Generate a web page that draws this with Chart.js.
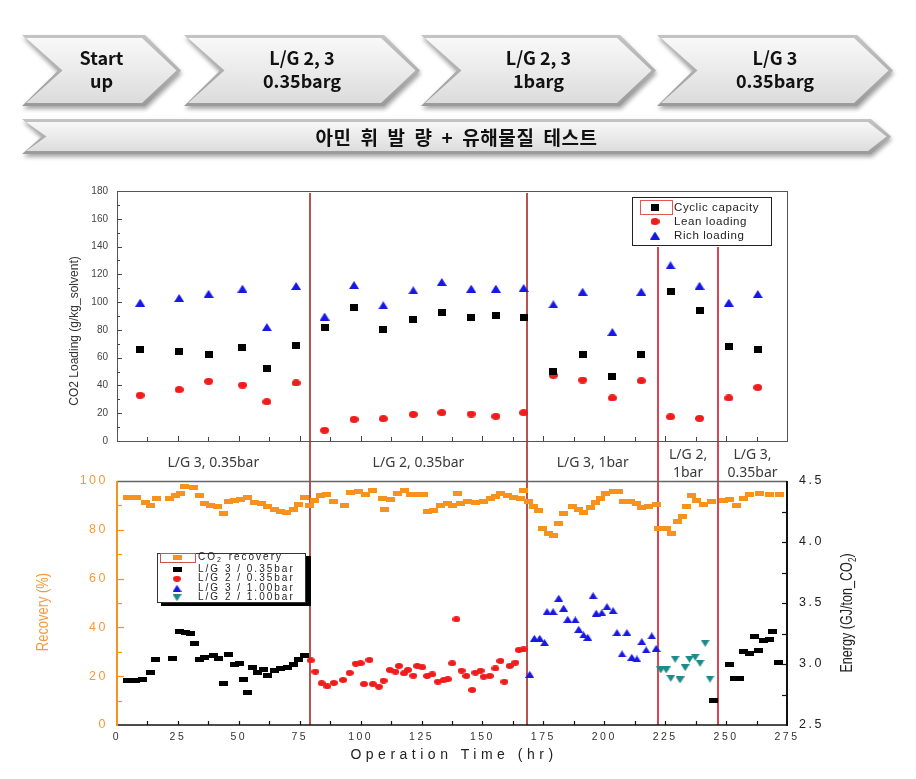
<!DOCTYPE html>
<html><head><meta charset="utf-8">
<script src="https://cdn.jsdelivr.net/npm/chart.js@4.4.0/dist/chart.umd.min.js"></script>
<style>
html,body{margin:0;padding:0;background:#fff;width:916px;height:779px;overflow:hidden;position:relative;}
.chev{position:absolute;filter:drop-shadow(1px 3px 2px rgba(0,0,0,0.35));}
.chev .outer,.chev .inner{position:absolute;left:0;top:0;width:100%;height:100%;}
.chev .outer{background:linear-gradient(#c4c4c4,#9a9a9a);}
.chev .inner{background:linear-gradient(#fafafa,#ececec 45%,#dadada);}
.chev .txt{position:absolute;left:0;top:0;width:100%;height:100%;display:flex;align-items:center;justify-content:center;text-align:center;font-family:"Noto Sans CJK KR","Noto Sans",sans-serif;font-weight:bold;font-size:18px;line-height:23px;color:#111;}
.chev .txt.wide{font-size:19px;letter-spacing:0.6px;word-spacing:4px;}
canvas{position:absolute;left:0;}
#c1{top:180px;} #c2{top:470px;}
</style></head>
<body>
<canvas id="c1" width="916" height="301"></canvas>
<canvas id="c2" width="916" height="309"></canvas>
<script>
// ---------- DATA ----------
const stageLabels = [["Start","up"],["L/G 2, 3","0.35barg"],["L/G 2, 3","1barg"],["L/G 3","0.35barg"]];
const testLabel = "아민 휘 발 량 + 유해물질 테스트";
const phaseBounds = [79.1, 168.4, 222.1, 246.7];
const phaseLabels = [["L/G 3, 0.35bar"],["L/G 2, 0.35bar"],["L/G 3, 1bar"],["L/G 2,","1bar"],["L/G 3,","0.35bar"]];

const topTimes       = [9.5,25.5,37.6,51.5,61.5,73.5,85.2,97.3,109.3,121.6,133.3,145.4,155.5,166.9,179.1,191.1,203.3,215.2,227.2,239.1,251.1,263];
const cyclicCapacity = [65.7,64.6,62,67.4,52.3,68.6,81.4,95.8,80,87.8,92.6,88.6,90.5,88.6,49.7,62,46.8,62.1,107.5,93.8,67.7,65.7];
const leanLoading    = [32.9,37,43,40.3,28.3,41.8,7.7,15.6,16.1,19.2,20.4,19.4,17.8,20.4,47.3,43.9,31,43.4,17.5,16.3,31,38.6];
const richLoading    = [99.6,103,106,109.7,82,111.6,89.6,112.3,97.7,108.5,114.5,109.7,109.7,110.2,98.4,107.5,78.5,107.5,126.5,111.8,99.6,105.8];

const recTime  = [4.5,8,11.9,13.7,16.3,21.4,24.2,26.2,27.9,31.4,33.7,35.8,38.5,41.3,43.6,45.6,48.4,50.8,53.6,56.3,59.3,61.8,64.5,67.2,69.5,72.4,74.7,76.8,79.2,81.1,83.6,86.1,89,93.2,95.9,99.3,102,104.8,108.9,109.6,112.3,115,117.8,120.5,123.2,125.9,127.3,130,132.8,135.5,137.6,139.6,141,143.7,147.1,150.5,153.3,155.3,157.4,160.1,162.8,165.6,166.9,169,171,173,174.5,177.2,179.2,181.3,183.3,186.8,189.5,191.5,194.3,196.3,198.4,200.4,203.8,205.9,207.9,210.7,213.1,215.4,218.2,221.3,222.3,225.7,227.7,230,232.2,233.6,235.9,238,240.7,244.1,248.9,251.6,254.4,257.1,259.8,263.9,268,272];
const recValue = [93.3,93.3,91.1,90,92.9,93,93.9,94.7,97.7,97.4,94,90.9,89.8,89.5,86.8,91.5,91.9,92.5,93.3,91.1,90.9,89.5,88.4,87.6,87,88.4,90.2,93.3,89.8,91.9,93.9,94.6,91.5,89.8,95.2,95.6,94.3,96.3,92.9,88.4,92.5,95,96,94.3,94.3,94.3,87.4,88.1,89.8,90.6,89.8,94.7,90.9,91.5,91.1,91.5,92.9,93.6,94.7,93.9,93.3,92.9,96,91.5,89.5,88.1,80.6,78.6,77.5,82.4,86.5,89.5,88.4,87,89.2,91.1,92.9,94.7,95.6,95.6,91.5,91.5,90.9,89.2,89.5,90.2,80.6,80.6,78.3,83.3,85.4,89.5,93.9,92.2,90.2,91.5,92.2,92.5,89.8,92.9,94.3,95,94.3,94.3];

const lg3LowTime   = [4.5,7.5,10.5,13.7,16,22.8,25.5,28,30.3,31.7,33.7,35.8,39.6,41.5,43.7,45.6,48.1,50.1,51.9,53.6,55.6,57.7,60.1,61.8,64.5,67.2,70,72.4,74.7,76.8,244.8,251.4,253.3,255.5,257.1,259.5,261.5,263.2,265.3,267.7,269.1,271.4];
const lg3LowEnergy = [2.863,2.866,2.869,2.932,3.033,3.041,3.265,3.26,3.254,3.164,3.033,3.055,3.071,3.043,2.842,3.074,3.0,3.006,2.869,2.765,2.973,2.929,2.957,2.902,2.945,2.964,2.973,3.0,3.039,3.071,2.7,3.0,2.883,2.883,3.101,3.088,3.224,3.109,3.191,3.202,3.265,3.011];

const lg2LowTime   = [79.5,81.4,84,86.3,89,92.8,95.5,98,100,101.4,103.6,105,107.5,109.4,112,114.3,115.7,117.8,119.4,121.6,123.2,125.3,127.3,129.4,131.7,134.1,135.8,137.6,139.3,141.4,143.4,145.8,147.1,149.2,150.5,153,155.3,157.4,159,161.2,163.5,164.9,166.9];
const lg2LowEnergy = [3.03,2.937,2.842,2.817,2.845,2.869,2.927,3.003,3.006,2.836,3.033,2.836,2.814,2.863,2.951,2.937,2.984,2.924,2.951,2.904,2.984,2.973,2.902,2.915,2.855,2.869,2.875,3.006,3.366,2.945,2.902,2.787,2.929,2.945,2.896,2.902,2.964,3.025,2.855,2.984,3.011,3.115,3.12];

const lg3HighTime   = [169.4,171.3,173.5,175.5,176.5,179,181.3,183.3,185,188.1,189.5,191.5,193.2,195.4,196.7,199,201.1,203.6,205.2,207.3,209.3,211.3,213.4,215.4,217.2,219.5,221.3];
const lg3HighEnergy = [2.915,3.211,3.211,3.175,3.429,3.429,3.539,3.457,3.366,3.361,3.284,3.238,3.219,3.56,3.416,3.42,3.47,3.437,3.257,3.082,3.257,3.055,3.041,3.183,3.115,3.23,3.128];

const lg2HighTime   = [223.2,225.4,227.3,229.1,231.1,233.2,235,237.3,239.3,241.4,243.4];
const lg2HighEnergy = [2.951,2.951,2.883,3.039,2.869,2.97,3.039,3.055,3.006,3.17,2.877];

const xTickValues = [0,25,50,75,100,125,150,175,200,225,250,275];

// ---------- COLOURS ----------
const ORANGE='#f7921c', ORANGE_TXT='#f29b3e', RED='#f01c1c', BLUE='#1818e4', TEAL='#1f8a87';

// ---------- CHEVRONS ----------
function chevron(x0,x1,y0,y1,d,lines,cls){
  const w=x1-x0,h=y1-y0,b=3;
  const wrap=document.createElement('div');wrap.className='chev';
  Object.assign(wrap.style,{left:x0+'px',top:y0+'px',width:w+'px',height:h+'px'});
  const o=document.createElement('div');o.className='outer';
  o.style.clipPath=`polygon(0px 0px, ${w-d}px 0px, ${w}px ${h/2}px, ${w-d}px ${h}px, 0px ${h}px, ${d}px ${h/2}px)`;
  const i=document.createElement('div');i.className='inner';
  i.style.clipPath=`polygon(${b+1}px ${b}px, ${w-d-b}px ${b}px, ${w-b-1.5}px ${h/2}px, ${w-d-b}px ${h-b}px, ${b+1}px ${h-b}px, ${d+b+1.5}px ${h/2}px)`;
  const t=document.createElement('div');t.className='txt'+(cls?' '+cls:'');
  t.innerHTML=lines.join('<br>');
  wrap.appendChild(o);wrap.appendChild(i);wrap.appendChild(t);
  document.body.appendChild(wrap);
  return t;
}
const chevX=[[22,181],[184,420],[421,656],[657,893]];
chevX.forEach((c,k)=>{const t=chevron(c[0],c[1],35,106,36,stageLabels[k]);t.style.paddingBottom='4px';t.style.boxSizing='border-box';});
chevron(22,891,119,154,20,[testLabel],'wide');

// ---------- MARKERS ----------
function mk(w,h,fn){const c=document.createElement('canvas');c.width=w;c.height=h;const g=c.getContext('2d');fn(g,w,h);return c;}
const rectM=(w,h,col)=>mk(w,h,(g)=>{g.fillStyle=col;g.fillRect(0,0,w,h);});
const ellM=(w,h,col)=>mk(w,h,(g)=>{g.fillStyle=col;g.beginPath();g.ellipse(w/2,h/2,w/2,h/2,0,0,Math.PI*2);g.fill();});
const triM=(w,h,col,down)=>mk(w,h,(g)=>{g.fillStyle=col;g.beginPath();if(down){g.moveTo(0,0);g.lineTo(w,0);g.lineTo(w/2,h);}else{g.moveTo(w/2,0);g.lineTo(w,h);g.lineTo(0,h);}g.closePath();g.fill();});

const mTopSq=rectM(8,7,'#000'), mTopCi=ellM(9,7,RED), mTopTr=triM(10,8,BLUE,false);
const mRec=rectM(9,5,ORANGE), mBlk=rectM(9,5,'#000'), mRed=ellM(8,6,RED), mBlu=triM(9,7,BLUE,false), mTeal=triM(9,7,TEAL,true);

function line(ctx,x1,y1,x2,y2){ctx.beginPath();ctx.moveTo(x1,y1);ctx.lineTo(x2,y2);ctx.stroke();}
function pts(xs,ys){return xs.map((t,i)=>({x:t,y:ys[i]}));}
function fitY(w){return s=>{s.width=w;s.paddingTop=0;s.paddingBottom=0;};}
function fitX(h){return s=>{s.height=h;s.paddingLeft=0;s.paddingRight=0;};}

Chart.defaults.font.family='"Liberation Sans", Arial, sans-serif';
Chart.defaults.animation=false;

// ---------- TOP CHART ----------
const topDeco={
  id:'topDeco',
  beforeDatasetsDraw(chart){
    const {ctx,chartArea:ca,scales:{x}}=chart;
    ctx.save();ctx.lineWidth=2;
    phaseBounds.forEach((b,i)=>{
      const px=Math.round(x.getPixelForValue(b));
      ctx.strokeStyle=i<2?'#b8524e':'#dc4450';
      line(ctx,px,i<2?ca.top+2:67,px,chart.height);
    });
    ctx.restore();
  },
  afterDraw(chart){
    const {ctx,chartArea:ca,scales:{x,y}}=chart;
    ctx.save();
    ctx.strokeStyle='#555';ctx.lineWidth=1;
    ctx.strokeRect(ca.left+0.5,ca.top+0.5,ca.right-ca.left,ca.bottom-ca.top);
    ctx.strokeStyle='#444';
    for(let v=10;v<180;v+=10){const py=Math.round(y.getPixelForValue(v))+0.5;line(ctx,ca.left,py,ca.left+(v%20===0?5:3),py);}
    for(let t=12.5;t<275;t+=12.5){const px=Math.round(x.getPixelForValue(t))+0.5;line(ctx,px,ca.bottom,px,ca.bottom-(t%25===0?5:4));}
    // y title
    ctx.save();ctx.translate(75,151);ctx.rotate(-Math.PI/2);
    ctx.font='12px "Liberation Sans"';ctx.fillStyle='#333';ctx.textAlign='center';ctx.textBaseline='middle';
    ctx.fillText('CO2 Loading (g/kg_solvent)',0,0);ctx.restore();
    // phase labels
    const edges=[0,...phaseBounds,275];
    ctx.font='14px "Noto Sans"';ctx.fillStyle='#3a3a3a';ctx.textAlign='center';ctx.textBaseline='middle';
    phaseLabels.forEach((lab,i)=>{
      const cx=(x.getPixelForValue(edges[i])+x.getPixelForValue(edges[i+1]))/2;
      if(lab.length===1) ctx.fillText(lab[0],cx,283);
      else {ctx.fillText(lab[0],cx,275);ctx.fillText(lab[1],cx,293);}
    });
    // legend
    ctx.fillStyle='#fff';ctx.fillRect(632,17,139,49);
    ctx.strokeStyle='#222';ctx.lineWidth=1;ctx.strokeRect(632.5,17.5,139,48);
    ctx.strokeStyle='#e05858';ctx.strokeRect(640.5,20.5,32,14);
    const rows=[[mTopSq,'Cyclic capacity',27.5],[mTopCi,'Lean loading',41.5],[mTopTr,'Rich loading',55.5]];
    ctx.font='11.5px "Liberation Sans"';ctx.fillStyle='#222';ctx.textAlign='left';ctx.letterSpacing='0.6px';
    rows.forEach(r=>{ctx.drawImage(r[0],655-r[0].width/2,r[2]-r[0].height/2);ctx.fillText(r[1],674,r[2]);});
    ctx.restore();
  }
};

new Chart(document.getElementById('c1'),{
  type:'scatter',
  data:{datasets:[
    {label:'Cyclic capacity',data:pts(topTimes,cyclicCapacity),pointStyle:mTopSq,pointRadius:4,backgroundColor:'#000',borderColor:'#000'},
    {label:'Lean loading',data:pts(topTimes,leanLoading),pointStyle:mTopCi,pointRadius:4,backgroundColor:RED,borderColor:RED},
    {label:'Rich loading',data:pts(topTimes,richLoading),pointStyle:mTopTr,pointRadius:4,backgroundColor:BLUE,borderColor:BLUE}
  ]},
  options:{
    responsive:false,animation:false,
    layout:{padding:{top:11,right:129,bottom:0,left:0}},
    plugins:{legend:{display:false},tooltip:{enabled:false}},
    scales:{
      x:{type:'linear',min:0,max:275,ticks:{display:false},grid:{display:false,drawTicks:false},border:{display:false},afterFit:fitX(40)},
      y:{type:'linear',min:0,max:180,ticks:{stepSize:20,padding:9,color:'#444',font:{size:10}},grid:{display:false,drawTicks:false},border:{display:false},afterFit:fitY(117)}
    }
  },
  plugins:[topDeco]
});

// ---------- BOTTOM CHART ----------
const botDeco={
  id:'botDeco',
  beforeDraw(chart){chart.ctx.letterSpacing='2.5px';},
  beforeDatasetsDraw(chart){
    const {ctx,chartArea:ca,scales:{x}}=chart;
    ctx.save();ctx.lineWidth=2;
    phaseBounds.forEach((b,i)=>{
      const px=Math.round(x.getPixelForValue(b));
      ctx.strokeStyle=i<2?'#b8524e':'#dc4450';
      line(ctx,px,0,px,ca.bottom);
    });
    ctx.restore();
  },
  afterDraw(chart){
    const {ctx,chartArea:ca,scales:{x,y,y1}}=chart;
    ctx.save();ctx.letterSpacing='0px';
    // frame
    ctx.strokeStyle='#666';ctx.lineWidth=1.5;line(ctx,ca.left,ca.top+0.5,ca.right,ca.top+0.5);
    ctx.strokeStyle='#111';ctx.lineWidth=1.5;line(ctx,ca.left,ca.bottom,ca.right,ca.bottom);
    ctx.lineWidth=2;ctx.strokeStyle='#111';line(ctx,ca.right,ca.top,ca.right,ca.bottom+1);
    ctx.strokeStyle=ORANGE;line(ctx,ca.left,ca.top,ca.left,ca.bottom+1);
    // ticks
    ctx.lineWidth=1.2;ctx.strokeStyle=ORANGE;
    for(let v=10;v<100;v+=10){const py=Math.round(y.getPixelForValue(v))+0.5;line(ctx,ca.left,py,ca.left+(v%20===0?7:5),py);}
    ctx.strokeStyle='#111';
    for(let v=2.75;v<4.5;v+=0.25){const py=Math.round(y1.getPixelForValue(v))+0.5;line(ctx,ca.right,py,ca.right-5,py);}
    for(let t=12.5;t<275;t+=12.5){const px=Math.round(x.getPixelForValue(t))+0.5;line(ctx,px,ca.bottom,px,ca.bottom-4);}
    // left title
    ctx.save();ctx.translate(43,142);ctx.rotate(-Math.PI/2);ctx.scale(0.76,1);
    ctx.font='17px "Liberation Sans"';ctx.fillStyle=ORANGE_TXT;ctx.textAlign='center';ctx.textBaseline='middle';
    ctx.fillText('Recovery (%)',0,0);ctx.restore();
    // right title with subscript
    ctx.save();ctx.translate(847,143);ctx.rotate(-Math.PI/2);ctx.scale(0.74,1);
    ctx.fillStyle='#222';ctx.textBaseline='middle';ctx.textAlign='left';
    const p1='Energy (GJ/ton_CO',p2='2',p3=')';
    ctx.font='17px "Liberation Sans"';const w1=ctx.measureText(p1).width,w3=ctx.measureText(p3).width;
    ctx.font='11px "Liberation Sans"';const w2=ctx.measureText(p2).width;
    let sx=-(w1+w2+w3)/2;
    ctx.font='17px "Liberation Sans"';ctx.fillText(p1,sx,0);sx+=w1;
    ctx.font='11px "Liberation Sans"';ctx.fillText(p2,sx,6);sx+=w2;
    ctx.font='17px "Liberation Sans"';ctx.fillText(p3,sx,0);
    ctx.restore();
    // x title
    ctx.font='14px "Liberation Sans"';ctx.fillStyle='#222';ctx.textAlign='center';ctx.textBaseline='middle';ctx.letterSpacing='4.5px';
    ctx.fillText('Operation Time (hr)',(ca.left+ca.right)/2+2,285);
    // legend
    ctx.letterSpacing='0px';
    ctx.fillStyle='#000';ctx.fillRect(161,86,150,50);
    ctx.fillStyle='#fff';ctx.fillRect(157,83,149,50);
    ctx.strokeStyle='#333';ctx.lineWidth=1;ctx.strokeRect(157.5,83.5,148,49);
    ctx.strokeStyle='#d05050';ctx.strokeRect(160.5,83.5,35,9);
    const rows=[[mRec,null,87.5],[mBlk,'L/G 3 / 0.35bar',99],[mRed,'L/G 2 / 0.35bar',108.7],[mBlu,'L/G 3 / 1.00bar',118.3],[mTeal,'L/G 2 / 1.00bar',127.7]];
    ctx.fillStyle='#222';ctx.textAlign='left';ctx.textBaseline='middle';
    rows.forEach(r=>{
      ctx.drawImage(r[0],177-r[0].width/2,r[2]-r[0].height/2);
      ctx.letterSpacing='2px';ctx.font='10px "Liberation Sans"';
      if(r[1]) ctx.fillText(r[1],198,r[2]);
      else {
        let sx=198;ctx.fillText('CO',sx,r[2]);sx+=ctx.measureText('CO').width;
        ctx.font='7px "Liberation Sans"';ctx.fillText('2',sx,r[2]+3);sx+=ctx.measureText('2').width+1;
        ctx.font='10px "Liberation Sans"';ctx.fillText(' recovery',sx,r[2]);
      }
    });
    ctx.restore();
  }
};

new Chart(document.getElementById('c2'),{
  type:'scatter',
  data:{datasets:[
    {label:'CO2 recovery',data:pts(recTime,recValue),yAxisID:'y',pointStyle:mRec,pointRadius:4,backgroundColor:ORANGE,borderColor:ORANGE},
    {label:'L/G 3 / 0.35bar',data:pts(lg3LowTime,lg3LowEnergy),yAxisID:'y1',pointStyle:mBlk,pointRadius:4,backgroundColor:'#000',borderColor:'#000'},
    {label:'L/G 2 / 0.35bar',data:pts(lg2LowTime,lg2LowEnergy),yAxisID:'y1',pointStyle:mRed,pointRadius:4,backgroundColor:RED,borderColor:RED},
    {label:'L/G 3 / 1.00bar',data:pts(lg3HighTime,lg3HighEnergy),yAxisID:'y1',pointStyle:mBlu,pointRadius:4,backgroundColor:BLUE,borderColor:BLUE},
    {label:'L/G 2 / 1.00bar',data:pts(lg2HighTime,lg2HighEnergy),yAxisID:'y1',pointStyle:mTeal,pointRadius:4,backgroundColor:TEAL,borderColor:TEAL}
  ]},
  options:{
    responsive:false,animation:false,
    layout:{padding:{top:11,right:0,bottom:0,left:0}},
    plugins:{legend:{display:false},tooltip:{enabled:false}},
    scales:{
      x:{type:'linear',min:0,max:275,afterBuildTicks:s=>{s.ticks=xTickValues.map(v=>({value:v}));},
         ticks:{padding:6,maxRotation:0,autoSkip:false,color:'#333',font:{size:10.5}},
         grid:{display:false,drawTicks:false},border:{display:false},afterFit:fitX(54)},
      y:{type:'linear',position:'left',min:0,max:100,ticks:{stepSize:20,padding:9,color:ORANGE_TXT,font:{size:12.5}},
         grid:{display:false,drawTicks:false},border:{display:false},afterFit:fitY(117)},
      y1:{type:'linear',position:'right',min:2.5,max:4.5,ticks:{stepSize:0.5,padding:12,color:'#222',font:{size:12.5},callback:v=>v.toFixed(1)},
         grid:{display:false,drawTicks:false},border:{display:false},afterFit:fitY(129)}
    }
  },
  plugins:[botDeco]
});
</script>
</body></html>
